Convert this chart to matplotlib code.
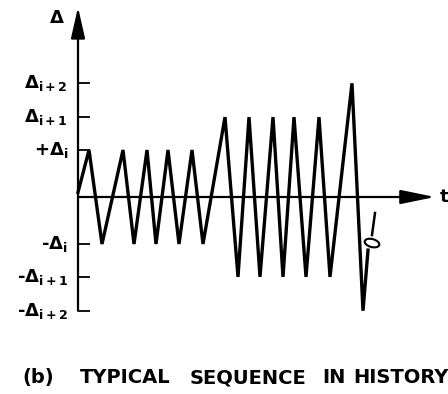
"""Typical load sequence in a history: stepped amplitude cycles Δi, Δi+1, Δi+2."""

import matplotlib

matplotlib.use("Agg")

import matplotlib.pyplot as plt
from matplotlib.patches import Ellipse
from matplotlib.transforms import Affine2D


# amplitude levels (in units of Δi)
D_I = 1.0
D_I1 = 1.7
D_I2 = 2.42

TICK_VALUES = [D_I2, D_I1, D_I, -D_I, -D_I1, -D_I2]
TICK_LABELS = [
    r"$\Delta_{i+2}$",
    r"$\Delta_{i+1}$",
    r"+$\Delta_{i}$",
    r"-$\Delta_{i}$",
    r"-$\Delta_{i+1}$",
    r"-$\Delta_{i+2}$",
]

# time of each reversal and the Δ reached there
T_HISTORY = [0, 11, 24, 45, 56, 69, 78, 90, 101, 114, 125,
             147, 160, 171, 182, 195, 205, 216, 228, 241, 252,
             274, 285, 290]
D_HISTORY = [0.1, D_I, -D_I, D_I, -D_I, D_I, -D_I, D_I, -D_I, D_I, -D_I,
             D_I1, -D_I1, D_I1, -D_I1, D_I1, -D_I1, D_I1, -D_I1, D_I1, -D_I1,
             D_I2, -D_I2, -1.13]
# continuation after the break mark
T_AFTER = [294, 297]
D_AFTER = [-0.81, -0.34]

CAPTION_WORDS = ["(b)", "TYPICAL", "SEQUENCE", "IN", "HISTORY"]
CAPTION_X = [-56, 2, 112, 244, 275]

PX_PER_UNIT = 47.0
T_TIP = 357
D_TIP = 4.04

plt.rcParams["mathtext.default"] = "regular"


def main() -> None:
    fig = plt.figure(figsize=(4.48, 3.94), dpi=100)
    ax = fig.add_axes([0, 0, 1, 1])
    ax.set_xlim(-78, 370)
    ax.set_ylim(-197 / PX_PER_UNIT, 197 / PX_PER_UNIT)
    ax.axis("off")

    # axes with arrow heads
    ax.annotate("", xy=(0, D_TIP), xytext=(0, -D_I2),
                arrowprops=dict(arrowstyle="-|>,head_length=19,head_width=4.3",
                                mutation_scale=1, lw=1.6, color="black",
                                shrinkA=0, shrinkB=0))
    ax.annotate("", xy=(T_TIP, 0), xytext=(0, 0),
                arrowprops=dict(arrowstyle="-|>,head_length=21,head_width=4.3",
                                mutation_scale=1, lw=1.6, color="black",
                                shrinkA=0, shrinkB=0))

    # ticks and labels
    ax.hlines(TICK_VALUES, 0, 12, color="black", lw=1.3)
    for val, lab in zip(TICK_VALUES, TICK_LABELS):
        ax.annotate(lab, xy=(0, val), xytext=(-10, -5), textcoords="offset pixels",
                    ha="right", va="baseline", fontsize=13, fontweight="bold")

    ax.text(-21, 3.81, r"$\Delta$", ha="center", va="center", fontsize=13,
            fontweight="bold")
    ax.text(362, 0, "t", ha="left", va="center", fontsize=13, fontweight="bold")

    # load history
    ax.plot(T_HISTORY, D_HISTORY, color="black", lw=2.4, solid_joinstyle="miter")
    ax.plot(T_AFTER, D_AFTER, color="black", lw=1.8)

    # break mark
    cx, cy = ax.transData.transform((294, -0.98))
    ax.add_patch(Ellipse((0, 0), 15, 8, angle=-15, fill=False, lw=1.5,
                         edgecolor="black",
                         transform=Affine2D().translate(cx, cy)))

    for word, x in zip(CAPTION_WORDS, CAPTION_X):
        ax.text(x, -3.96, word, ha="left", va="baseline", fontsize=14,
                fontweight="bold")

    fig.savefig("out.png", dpi=100, facecolor="white")
    plt.close(fig)


if __name__ == "__main__":
    main()
